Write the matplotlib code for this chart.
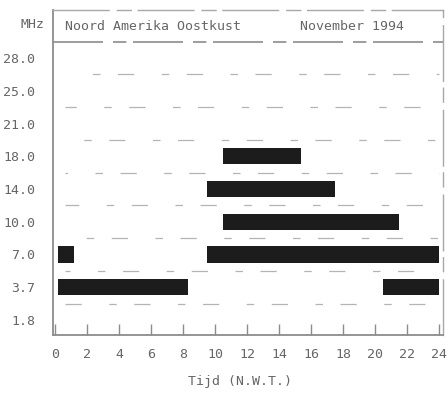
"""
Propagatie-overzicht: bruikbare frequenties per uur voor Noord Amerika Oostkust.
Zwarte balken geven de uren aan waarin een band open is.
"""

import matplotlib.pyplot as plt

# frequenties (MHz), van onder naar boven
freq_labels = ["1.8", "3.7", "7.0", "10.0", "14.0", "18.0", "21.0", "25.0", "28.0"]

# openingen per band: (begin-uur, eind-uur)
openings = {
    "3.7": [(0.2, 8.3), (20.5, 24.0)],
    "7.0": [(0.2, 1.2), (9.5, 24.0)],
    "10.0": [(10.5, 21.5)],
    "14.0": [(9.5, 17.5)],
    "18.0": [(10.5, 15.4)],
}

hour_ticks = list(range(0, 25, 2))

title_left = "Noord Amerika Oostkust"
title_right = "November 1994"
x_label = "Tijd (N.W.T.)"
unit_label = "MHz"

text_color = "#666666"
line_color = "#8c8c8c"
bar_color = "#1c1c1c"
mono = "DejaVu Sans Mono"

fig = plt.figure(figsize=(4.48, 3.93), dpi=100)
ax = fig.add_axes([53 / 448, 1 - 335 / 393, 390 / 448, 325 / 393])

# balken per frequentie
for i, f in enumerate(freq_labels):
    for start, end in openings.get(f, []):
        ax.barh(i, end - start, left=start, height=0.5, color=bar_color, edgecolor="none")

# onderbroken hulplijnen tussen de banden
for k in range(len(freq_labels) - 1):
    ax.axhline(k + 0.5, color="#b4b4b4", lw=0.9,
               linestyle=(k * 9 % 25, (13, 22, 6, 14)), xmin=0.03, xmax=0.99)

# lijn onder de titel
ax.axhline(8.49, color=line_color, lw=1.2, linestyle=(0, (30, 6, 8, 4)))

ax.set_xlim(-0.125, 24.25)
ax.set_ylim(-0.46, 9.47)

ax.set_yticks(range(len(freq_labels)))
ax.set_yticklabels(freq_labels)
ax.set_xticks(hour_ticks)
ax.set_xticklabels([str(h) for h in hour_ticks])

ax.tick_params(axis="x", direction="in", length=8, width=1, color=line_color,
               labelsize=9.5, labelcolor=text_color, pad=9)
ax.tick_params(axis="y", length=0, labelsize=9.5, labelcolor=text_color, pad=13)
for lbl in ax.get_xticklabels() + ax.get_yticklabels():
    lbl.set_fontfamily(mono)

for side in ["left", "bottom"]:
    ax.spines[side].set_color(line_color)
    ax.spines[side].set_linewidth(1.3)
for side in ["top", "right"]:
    ax.spines[side].set_color("#a8a8a8")
    ax.spines[side].set_linewidth(1.0)
    ax.spines[side].set_linestyle((0, (40, 6, 10, 5)))

# titels in de kop van het kader
ax.text(0.6, 8.98, title_left, fontsize=9.5, family=mono, color=text_color, va="center")
ax.text(15.3, 8.98, title_right, fontsize=9.5, family=mono, color=text_color, va="center")

fig.text(20 / 448, 1 - 24 / 393, unit_label, fontsize=9.5, family=mono,
         color=text_color, va="center")
fig.text(240 / 448, 1 - 381 / 393, x_label, fontsize=9.5, family=mono,
         color=text_color, va="center", ha="center")

fig.savefig("out.png", dpi=100, facecolor="white")
